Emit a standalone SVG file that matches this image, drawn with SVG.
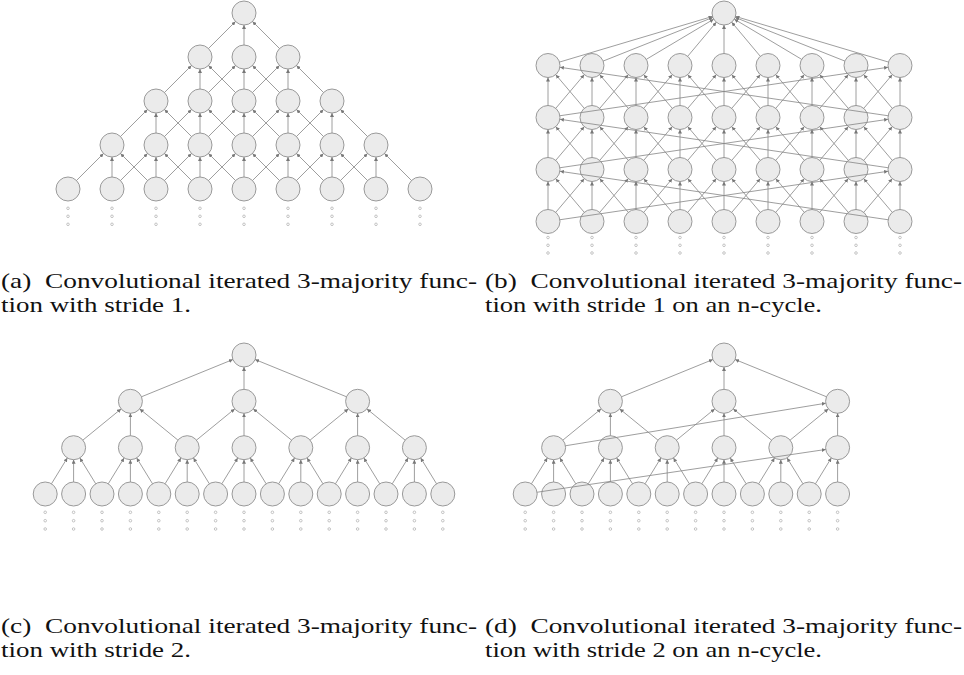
<svg xmlns="http://www.w3.org/2000/svg" width="964" height="675" viewBox="0 0 964 675">
<style>
.n{fill:#ebebeb;stroke:#9a9a9a;stroke-width:1}
.e{stroke:#858585;stroke-width:0.8;fill:none;marker-end:url(#ah)}
.d{fill:#fff;stroke:#a0a0a0;stroke-width:0.6}
.cap{font-family:"Liberation Serif",serif;font-size:22px;fill:#111;white-space:pre}
</style>
<defs>
<marker id="ah" viewBox="0 0 6 6" refX="6" refY="3" markerWidth="4" markerHeight="4" orient="auto" markerUnits="userSpaceOnUse"><path d="M0,0 L6,3 L0,6 z" fill="#777"/></marker>
</defs>
<rect width="964" height="675" fill="#fff"/>

<!-- Panel (a) nodes -->
<g id="panel-a-nodes">
<g id="a00"><circle class="n" cx="244" cy="13" r="12"/></g>
<g id="a10"><circle class="n" cx="200" cy="57" r="12"/></g>
<g id="a11"><circle class="n" cx="244" cy="57" r="12"/></g>
<g id="a12"><circle class="n" cx="288" cy="57" r="12"/></g>
<g id="a20"><circle class="n" cx="156" cy="101" r="12"/></g>
<g id="a21"><circle class="n" cx="200" cy="101" r="12"/></g>
<g id="a22"><circle class="n" cx="244" cy="101" r="12"/></g>
<g id="a23"><circle class="n" cx="288" cy="101" r="12"/></g>
<g id="a24"><circle class="n" cx="332" cy="101" r="12"/></g>
<g id="a30"><circle class="n" cx="112" cy="145" r="12"/></g>
<g id="a31"><circle class="n" cx="156" cy="145" r="12"/></g>
<g id="a32"><circle class="n" cx="200" cy="145" r="12"/></g>
<g id="a33"><circle class="n" cx="244" cy="145" r="12"/></g>
<g id="a34"><circle class="n" cx="288" cy="145" r="12"/></g>
<g id="a35"><circle class="n" cx="332" cy="145" r="12"/></g>
<g id="a36"><circle class="n" cx="376" cy="145" r="12"/></g>
<g id="a40"><circle class="n" cx="68" cy="189" r="12"/></g>
<g id="a41"><circle class="n" cx="112" cy="189" r="12"/></g>
<g id="a42"><circle class="n" cx="156" cy="189" r="12"/></g>
<g id="a43"><circle class="n" cx="200" cy="189" r="12"/></g>
<g id="a44"><circle class="n" cx="244" cy="189" r="12"/></g>
<g id="a45"><circle class="n" cx="288" cy="189" r="12"/></g>
<g id="a46"><circle class="n" cx="332" cy="189" r="12"/></g>
<g id="a47"><circle class="n" cx="376" cy="189" r="12"/></g>
<g id="a48"><circle class="n" cx="420" cy="189" r="12"/></g>
</g>
<g id="panel-a-dots">
<circle class="d" cx="68" cy="208.3" r="1.3"/><circle class="d" cx="68" cy="216.3" r="1.3"/><circle class="d" cx="68" cy="224.3" r="1.3"/>
<circle class="d" cx="112" cy="208.3" r="1.3"/><circle class="d" cx="112" cy="216.3" r="1.3"/><circle class="d" cx="112" cy="224.3" r="1.3"/>
<circle class="d" cx="156" cy="208.3" r="1.3"/><circle class="d" cx="156" cy="216.3" r="1.3"/><circle class="d" cx="156" cy="224.3" r="1.3"/>
<circle class="d" cx="200" cy="208.3" r="1.3"/><circle class="d" cx="200" cy="216.3" r="1.3"/><circle class="d" cx="200" cy="224.3" r="1.3"/>
<circle class="d" cx="244" cy="208.3" r="1.3"/><circle class="d" cx="244" cy="216.3" r="1.3"/><circle class="d" cx="244" cy="224.3" r="1.3"/>
<circle class="d" cx="288" cy="208.3" r="1.3"/><circle class="d" cx="288" cy="216.3" r="1.3"/><circle class="d" cx="288" cy="224.3" r="1.3"/>
<circle class="d" cx="332" cy="208.3" r="1.3"/><circle class="d" cx="332" cy="216.3" r="1.3"/><circle class="d" cx="332" cy="224.3" r="1.3"/>
<circle class="d" cx="376" cy="208.3" r="1.3"/><circle class="d" cx="376" cy="216.3" r="1.3"/><circle class="d" cx="376" cy="224.3" r="1.3"/>
<circle class="d" cx="420" cy="208.3" r="1.3"/><circle class="d" cx="420" cy="216.3" r="1.3"/><circle class="d" cx="420" cy="224.3" r="1.3"/>
</g>

<!-- Panel (b) nodes -->
<g id="panel-b-nodes">
<g id="b00"><circle class="n" cx="724" cy="13" r="12"/></g>
<g id="b10"><circle class="n" cx="548" cy="65.5" r="12"/></g>
<g id="b11"><circle class="n" cx="592" cy="65.5" r="12"/></g>
<g id="b12"><circle class="n" cx="636" cy="65.5" r="12"/></g>
<g id="b13"><circle class="n" cx="680" cy="65.5" r="12"/></g>
<g id="b14"><circle class="n" cx="724" cy="65.5" r="12"/></g>
<g id="b15"><circle class="n" cx="768" cy="65.5" r="12"/></g>
<g id="b16"><circle class="n" cx="812" cy="65.5" r="12"/></g>
<g id="b17"><circle class="n" cx="856" cy="65.5" r="12"/></g>
<g id="b18"><circle class="n" cx="900" cy="65.5" r="12"/></g>
<g id="b20"><circle class="n" cx="548" cy="117.5" r="12"/></g>
<g id="b21"><circle class="n" cx="592" cy="117.5" r="12"/></g>
<g id="b22"><circle class="n" cx="636" cy="117.5" r="12"/></g>
<g id="b23"><circle class="n" cx="680" cy="117.5" r="12"/></g>
<g id="b24"><circle class="n" cx="724" cy="117.5" r="12"/></g>
<g id="b25"><circle class="n" cx="768" cy="117.5" r="12"/></g>
<g id="b26"><circle class="n" cx="812" cy="117.5" r="12"/></g>
<g id="b27"><circle class="n" cx="856" cy="117.5" r="12"/></g>
<g id="b28"><circle class="n" cx="900" cy="117.5" r="12"/></g>
<g id="b30"><circle class="n" cx="548" cy="169.5" r="12"/></g>
<g id="b31"><circle class="n" cx="592" cy="169.5" r="12"/></g>
<g id="b32"><circle class="n" cx="636" cy="169.5" r="12"/></g>
<g id="b33"><circle class="n" cx="680" cy="169.5" r="12"/></g>
<g id="b34"><circle class="n" cx="724" cy="169.5" r="12"/></g>
<g id="b35"><circle class="n" cx="768" cy="169.5" r="12"/></g>
<g id="b36"><circle class="n" cx="812" cy="169.5" r="12"/></g>
<g id="b37"><circle class="n" cx="856" cy="169.5" r="12"/></g>
<g id="b38"><circle class="n" cx="900" cy="169.5" r="12"/></g>
<g id="b40"><circle class="n" cx="548" cy="221.5" r="12"/></g>
<g id="b41"><circle class="n" cx="592" cy="221.5" r="12"/></g>
<g id="b42"><circle class="n" cx="636" cy="221.5" r="12"/></g>
<g id="b43"><circle class="n" cx="680" cy="221.5" r="12"/></g>
<g id="b44"><circle class="n" cx="724" cy="221.5" r="12"/></g>
<g id="b45"><circle class="n" cx="768" cy="221.5" r="12"/></g>
<g id="b46"><circle class="n" cx="812" cy="221.5" r="12"/></g>
<g id="b47"><circle class="n" cx="856" cy="221.5" r="12"/></g>
<g id="b48"><circle class="n" cx="900" cy="221.5" r="12"/></g>
</g>
<g id="panel-b-dots">
<circle class="d" cx="548" cy="237.5" r="1.3"/><circle class="d" cx="548" cy="245.3" r="1.3"/><circle class="d" cx="548" cy="253" r="1.3"/>
<circle class="d" cx="592" cy="237.5" r="1.3"/><circle class="d" cx="592" cy="245.3" r="1.3"/><circle class="d" cx="592" cy="253" r="1.3"/>
<circle class="d" cx="636" cy="237.5" r="1.3"/><circle class="d" cx="636" cy="245.3" r="1.3"/><circle class="d" cx="636" cy="253" r="1.3"/>
<circle class="d" cx="680" cy="237.5" r="1.3"/><circle class="d" cx="680" cy="245.3" r="1.3"/><circle class="d" cx="680" cy="253" r="1.3"/>
<circle class="d" cx="724" cy="237.5" r="1.3"/><circle class="d" cx="724" cy="245.3" r="1.3"/><circle class="d" cx="724" cy="253" r="1.3"/>
<circle class="d" cx="768" cy="237.5" r="1.3"/><circle class="d" cx="768" cy="245.3" r="1.3"/><circle class="d" cx="768" cy="253" r="1.3"/>
<circle class="d" cx="812" cy="237.5" r="1.3"/><circle class="d" cx="812" cy="245.3" r="1.3"/><circle class="d" cx="812" cy="253" r="1.3"/>
<circle class="d" cx="856" cy="237.5" r="1.3"/><circle class="d" cx="856" cy="245.3" r="1.3"/><circle class="d" cx="856" cy="253" r="1.3"/>
<circle class="d" cx="900" cy="237.5" r="1.3"/><circle class="d" cx="900" cy="245.3" r="1.3"/><circle class="d" cx="900" cy="253" r="1.3"/>
</g>

<!-- Panel (c) nodes -->
<g id="panel-c-nodes">
<g id="c00"><circle class="n" cx="244" cy="355" r="12"/></g>
<g id="c10"><circle class="n" cx="130.4" cy="401.3" r="12"/></g>
<g id="c11"><circle class="n" cx="244" cy="401.3" r="12"/></g>
<g id="c12"><circle class="n" cx="357.6" cy="401.3" r="12"/></g>
<g id="c20"><circle class="n" cx="73.6" cy="447.7" r="12"/></g>
<g id="c21"><circle class="n" cx="130.4" cy="447.7" r="12"/></g>
<g id="c22"><circle class="n" cx="187.2" cy="447.7" r="12"/></g>
<g id="c23"><circle class="n" cx="244" cy="447.7" r="12"/></g>
<g id="c24"><circle class="n" cx="300.8" cy="447.7" r="12"/></g>
<g id="c25"><circle class="n" cx="357.6" cy="447.7" r="12"/></g>
<g id="c26"><circle class="n" cx="414.4" cy="447.7" r="12"/></g>
<g id="c30"><circle class="n" cx="45.2" cy="494" r="12"/></g>
<g id="c31"><circle class="n" cx="73.6" cy="494" r="12"/></g>
<g id="c32"><circle class="n" cx="102" cy="494" r="12"/></g>
<g id="c33"><circle class="n" cx="130.4" cy="494" r="12"/></g>
<g id="c34"><circle class="n" cx="158.8" cy="494" r="12"/></g>
<g id="c35"><circle class="n" cx="187.2" cy="494" r="12"/></g>
<g id="c36"><circle class="n" cx="215.6" cy="494" r="12"/></g>
<g id="c37"><circle class="n" cx="244" cy="494" r="12"/></g>
<g id="c38"><circle class="n" cx="272.4" cy="494" r="12"/></g>
<g id="c39"><circle class="n" cx="300.8" cy="494" r="12"/></g>
<g id="c310"><circle class="n" cx="329.2" cy="494" r="12"/></g>
<g id="c311"><circle class="n" cx="357.6" cy="494" r="12"/></g>
<g id="c312"><circle class="n" cx="386" cy="494" r="12"/></g>
<g id="c313"><circle class="n" cx="414.4" cy="494" r="12"/></g>
<g id="c314"><circle class="n" cx="442.8" cy="494" r="12"/></g>
</g>
<g id="panel-c-dots">
<circle class="d" cx="45.2" cy="512.3" r="1.3"/><circle class="d" cx="45.2" cy="520.7" r="1.3"/><circle class="d" cx="45.2" cy="529" r="1.3"/>
<circle class="d" cx="73.6" cy="512.3" r="1.3"/><circle class="d" cx="73.6" cy="520.7" r="1.3"/><circle class="d" cx="73.6" cy="529" r="1.3"/>
<circle class="d" cx="102" cy="512.3" r="1.3"/><circle class="d" cx="102" cy="520.7" r="1.3"/><circle class="d" cx="102" cy="529" r="1.3"/>
<circle class="d" cx="130.4" cy="512.3" r="1.3"/><circle class="d" cx="130.4" cy="520.7" r="1.3"/><circle class="d" cx="130.4" cy="529" r="1.3"/>
<circle class="d" cx="158.8" cy="512.3" r="1.3"/><circle class="d" cx="158.8" cy="520.7" r="1.3"/><circle class="d" cx="158.8" cy="529" r="1.3"/>
<circle class="d" cx="187.2" cy="512.3" r="1.3"/><circle class="d" cx="187.2" cy="520.7" r="1.3"/><circle class="d" cx="187.2" cy="529" r="1.3"/>
<circle class="d" cx="215.6" cy="512.3" r="1.3"/><circle class="d" cx="215.6" cy="520.7" r="1.3"/><circle class="d" cx="215.6" cy="529" r="1.3"/>
<circle class="d" cx="244" cy="512.3" r="1.3"/><circle class="d" cx="244" cy="520.7" r="1.3"/><circle class="d" cx="244" cy="529" r="1.3"/>
<circle class="d" cx="272.4" cy="512.3" r="1.3"/><circle class="d" cx="272.4" cy="520.7" r="1.3"/><circle class="d" cx="272.4" cy="529" r="1.3"/>
<circle class="d" cx="300.8" cy="512.3" r="1.3"/><circle class="d" cx="300.8" cy="520.7" r="1.3"/><circle class="d" cx="300.8" cy="529" r="1.3"/>
<circle class="d" cx="329.2" cy="512.3" r="1.3"/><circle class="d" cx="329.2" cy="520.7" r="1.3"/><circle class="d" cx="329.2" cy="529" r="1.3"/>
<circle class="d" cx="357.6" cy="512.3" r="1.3"/><circle class="d" cx="357.6" cy="520.7" r="1.3"/><circle class="d" cx="357.6" cy="529" r="1.3"/>
<circle class="d" cx="386" cy="512.3" r="1.3"/><circle class="d" cx="386" cy="520.7" r="1.3"/><circle class="d" cx="386" cy="529" r="1.3"/>
<circle class="d" cx="414.4" cy="512.3" r="1.3"/><circle class="d" cx="414.4" cy="520.7" r="1.3"/><circle class="d" cx="414.4" cy="529" r="1.3"/>
<circle class="d" cx="442.8" cy="512.3" r="1.3"/><circle class="d" cx="442.8" cy="520.7" r="1.3"/><circle class="d" cx="442.8" cy="529" r="1.3"/>
</g>

<!-- Panel (d) nodes -->
<g id="panel-d-nodes">
<g id="d00"><circle class="n" cx="724" cy="355" r="12"/></g>
<g id="d10"><circle class="n" cx="610.4" cy="401.3" r="12"/></g>
<g id="d11"><circle class="n" cx="724" cy="401.3" r="12"/></g>
<g id="d12"><circle class="n" cx="837.6" cy="401.3" r="12"/></g>
<g id="d20"><circle class="n" cx="553.6" cy="447.7" r="12"/></g>
<g id="d21"><circle class="n" cx="610.4" cy="447.7" r="12"/></g>
<g id="d22"><circle class="n" cx="667.2" cy="447.7" r="12"/></g>
<g id="d23"><circle class="n" cx="724" cy="447.7" r="12"/></g>
<g id="d24"><circle class="n" cx="780.8" cy="447.7" r="12"/></g>
<g id="d25"><circle class="n" cx="837.6" cy="447.7" r="12"/></g>
<g id="d30"><circle class="n" cx="525.2" cy="494" r="12"/></g>
<g id="d31"><circle class="n" cx="553.6" cy="494" r="12"/></g>
<g id="d32"><circle class="n" cx="582" cy="494" r="12"/></g>
<g id="d33"><circle class="n" cx="610.4" cy="494" r="12"/></g>
<g id="d34"><circle class="n" cx="638.8" cy="494" r="12"/></g>
<g id="d35"><circle class="n" cx="667.2" cy="494" r="12"/></g>
<g id="d36"><circle class="n" cx="695.6" cy="494" r="12"/></g>
<g id="d37"><circle class="n" cx="724" cy="494" r="12"/></g>
<g id="d38"><circle class="n" cx="752.4" cy="494" r="12"/></g>
<g id="d39"><circle class="n" cx="780.8" cy="494" r="12"/></g>
<g id="d310"><circle class="n" cx="809.2" cy="494" r="12"/></g>
<g id="d311"><circle class="n" cx="837.6" cy="494" r="12"/></g>
</g>
<g id="panel-d-dots">
<circle class="d" cx="525.2" cy="512.3" r="1.3"/><circle class="d" cx="525.2" cy="520.7" r="1.3"/><circle class="d" cx="525.2" cy="529" r="1.3"/>
<circle class="d" cx="553.6" cy="512.3" r="1.3"/><circle class="d" cx="553.6" cy="520.7" r="1.3"/><circle class="d" cx="553.6" cy="529" r="1.3"/>
<circle class="d" cx="582" cy="512.3" r="1.3"/><circle class="d" cx="582" cy="520.7" r="1.3"/><circle class="d" cx="582" cy="529" r="1.3"/>
<circle class="d" cx="610.4" cy="512.3" r="1.3"/><circle class="d" cx="610.4" cy="520.7" r="1.3"/><circle class="d" cx="610.4" cy="529" r="1.3"/>
<circle class="d" cx="638.8" cy="512.3" r="1.3"/><circle class="d" cx="638.8" cy="520.7" r="1.3"/><circle class="d" cx="638.8" cy="529" r="1.3"/>
<circle class="d" cx="667.2" cy="512.3" r="1.3"/><circle class="d" cx="667.2" cy="520.7" r="1.3"/><circle class="d" cx="667.2" cy="529" r="1.3"/>
<circle class="d" cx="695.6" cy="512.3" r="1.3"/><circle class="d" cx="695.6" cy="520.7" r="1.3"/><circle class="d" cx="695.6" cy="529" r="1.3"/>
<circle class="d" cx="724" cy="512.3" r="1.3"/><circle class="d" cx="724" cy="520.7" r="1.3"/><circle class="d" cx="724" cy="529" r="1.3"/>
<circle class="d" cx="752.4" cy="512.3" r="1.3"/><circle class="d" cx="752.4" cy="520.7" r="1.3"/><circle class="d" cx="752.4" cy="529" r="1.3"/>
<circle class="d" cx="780.8" cy="512.3" r="1.3"/><circle class="d" cx="780.8" cy="520.7" r="1.3"/><circle class="d" cx="780.8" cy="529" r="1.3"/>
<circle class="d" cx="809.2" cy="512.3" r="1.3"/><circle class="d" cx="809.2" cy="520.7" r="1.3"/><circle class="d" cx="809.2" cy="529" r="1.3"/>
<circle class="d" cx="837.6" cy="512.3" r="1.3"/><circle class="d" cx="837.6" cy="520.7" r="1.3"/><circle class="d" cx="837.6" cy="529" r="1.3"/>
</g>

<!-- Connectors -->
<g id="connectors">
<g id="edges-a">
<line class="e" x1="208.49" y1="48.51" x2="235.51" y2="21.49"/>
<line class="e" x1="244" y1="45" x2="244" y2="25"/>
<line class="e" x1="279.51" y1="48.51" x2="252.49" y2="21.49"/>

<line class="e" x1="164.49" y1="92.51" x2="191.51" y2="65.49"/>
<line class="e" x1="200" y1="89" x2="200" y2="69"/>
<line class="e" x1="208.49" y1="92.51" x2="235.51" y2="65.49"/>
<line class="e" x1="235.51" y1="92.51" x2="208.49" y2="65.49"/>
<line class="e" x1="244" y1="89" x2="244" y2="69"/>
<line class="e" x1="252.49" y1="92.51" x2="279.51" y2="65.49"/>
<line class="e" x1="279.51" y1="92.51" x2="252.49" y2="65.49"/>
<line class="e" x1="288" y1="89" x2="288" y2="69"/>
<line class="e" x1="323.51" y1="92.51" x2="296.49" y2="65.49"/>

<line class="e" x1="120.49" y1="136.51" x2="147.51" y2="109.49"/>
<line class="e" x1="156" y1="133" x2="156" y2="113"/>
<line class="e" x1="164.49" y1="136.51" x2="191.51" y2="109.49"/>
<line class="e" x1="191.51" y1="136.51" x2="164.49" y2="109.49"/>
<line class="e" x1="200" y1="133" x2="200" y2="113"/>
<line class="e" x1="208.49" y1="136.51" x2="235.51" y2="109.49"/>
<line class="e" x1="235.51" y1="136.51" x2="208.49" y2="109.49"/>
<line class="e" x1="244" y1="133" x2="244" y2="113"/>
<line class="e" x1="252.49" y1="136.51" x2="279.51" y2="109.49"/>
<line class="e" x1="279.51" y1="136.51" x2="252.49" y2="109.49"/>
<line class="e" x1="288" y1="133" x2="288" y2="113"/>
<line class="e" x1="296.49" y1="136.51" x2="323.51" y2="109.49"/>
<line class="e" x1="323.51" y1="136.51" x2="296.49" y2="109.49"/>
<line class="e" x1="332" y1="133" x2="332" y2="113"/>
<line class="e" x1="367.51" y1="136.51" x2="340.49" y2="109.49"/>

<line class="e" x1="76.49" y1="180.51" x2="103.51" y2="153.49"/>
<line class="e" x1="112" y1="177" x2="112" y2="157"/>
<line class="e" x1="120.49" y1="180.51" x2="147.51" y2="153.49"/>
<line class="e" x1="147.51" y1="180.51" x2="120.49" y2="153.49"/>
<line class="e" x1="156" y1="177" x2="156" y2="157"/>
<line class="e" x1="164.49" y1="180.51" x2="191.51" y2="153.49"/>
<line class="e" x1="191.51" y1="180.51" x2="164.49" y2="153.49"/>
<line class="e" x1="200" y1="177" x2="200" y2="157"/>
<line class="e" x1="208.49" y1="180.51" x2="235.51" y2="153.49"/>
<line class="e" x1="235.51" y1="180.51" x2="208.49" y2="153.49"/>
<line class="e" x1="244" y1="177" x2="244" y2="157"/>
<line class="e" x1="252.49" y1="180.51" x2="279.51" y2="153.49"/>
<line class="e" x1="279.51" y1="180.51" x2="252.49" y2="153.49"/>
<line class="e" x1="288" y1="177" x2="288" y2="157"/>
<line class="e" x1="296.49" y1="180.51" x2="323.51" y2="153.49"/>
<line class="e" x1="323.51" y1="180.51" x2="296.49" y2="153.49"/>
<line class="e" x1="332" y1="177" x2="332" y2="157"/>
<line class="e" x1="340.49" y1="180.51" x2="367.51" y2="153.49"/>
<line class="e" x1="367.51" y1="180.51" x2="340.49" y2="153.49"/>
<line class="e" x1="376" y1="177" x2="376" y2="157"/>
<line class="e" x1="411.51" y1="180.51" x2="384.49" y2="153.49"/>
</g>

<g id="edges-b">
<line class="e" x1="559.5" y1="62.07" x2="712.5" y2="16.43"/>
<line class="e" x1="603.15" y1="61.07" x2="712.85" y2="17.43"/>
<line class="e" x1="646.31" y1="59.35" x2="713.69" y2="19.15"/>
<line class="e" x1="687.71" y1="56.3" x2="716.29" y2="22.2"/>
<line class="e" x1="724" y1="53.5" x2="724" y2="25"/>
<line class="e" x1="760.29" y1="56.3" x2="731.71" y2="22.2"/>
<line class="e" x1="801.69" y1="59.35" x2="734.31" y2="19.15"/>
<line class="e" x1="844.85" y1="61.07" x2="735.15" y2="17.43"/>
<line class="e" x1="888.5" y1="62.07" x2="735.5" y2="16.43"/>

<line class="e" x1="555.75" y1="108.34" x2="584.25" y2="74.66"/>
<line class="e" x1="599.75" y1="108.34" x2="628.25" y2="74.66"/>
<line class="e" x1="643.75" y1="108.34" x2="672.25" y2="74.66"/>
<line class="e" x1="687.75" y1="108.34" x2="716.25" y2="74.66"/>
<line class="e" x1="731.75" y1="108.34" x2="760.25" y2="74.66"/>
<line class="e" x1="775.75" y1="108.34" x2="804.25" y2="74.66"/>
<line class="e" x1="819.75" y1="108.34" x2="848.25" y2="74.66"/>
<line class="e" x1="863.75" y1="108.34" x2="892.25" y2="74.66"/>
<line class="e" x1="584.25" y1="108.34" x2="555.75" y2="74.66"/>
<line class="e" x1="628.25" y1="108.34" x2="599.75" y2="74.66"/>
<line class="e" x1="672.25" y1="108.34" x2="643.75" y2="74.66"/>
<line class="e" x1="716.25" y1="108.34" x2="687.75" y2="74.66"/>
<line class="e" x1="760.25" y1="108.34" x2="731.75" y2="74.66"/>
<line class="e" x1="804.25" y1="108.34" x2="775.75" y2="74.66"/>
<line class="e" x1="848.25" y1="108.34" x2="819.75" y2="74.66"/>
<line class="e" x1="892.25" y1="108.34" x2="863.75" y2="74.66"/>
<line class="e" x1="548" y1="105.5" x2="548" y2="77.5"/>
<line class="e" x1="592" y1="105.5" x2="592" y2="77.5"/>
<line class="e" x1="636" y1="105.5" x2="636" y2="77.5"/>
<line class="e" x1="680" y1="105.5" x2="680" y2="77.5"/>
<line class="e" x1="724" y1="105.5" x2="724" y2="77.5"/>
<line class="e" x1="768" y1="105.5" x2="768" y2="77.5"/>
<line class="e" x1="812" y1="105.5" x2="812" y2="77.5"/>
<line class="e" x1="856" y1="105.5" x2="856" y2="77.5"/>
<line class="e" x1="900" y1="105.5" x2="900" y2="77.5"/>
<line class="e" x1="559.87" y1="115.75" x2="888.13" y2="67.25"/>
<line class="e" x1="888.13" y1="115.75" x2="559.87" y2="67.25"/>

<line class="e" x1="555.75" y1="160.34" x2="584.25" y2="126.66"/>
<line class="e" x1="599.75" y1="160.34" x2="628.25" y2="126.66"/>
<line class="e" x1="643.75" y1="160.34" x2="672.25" y2="126.66"/>
<line class="e" x1="687.75" y1="160.34" x2="716.25" y2="126.66"/>
<line class="e" x1="731.75" y1="160.34" x2="760.25" y2="126.66"/>
<line class="e" x1="775.75" y1="160.34" x2="804.25" y2="126.66"/>
<line class="e" x1="819.75" y1="160.34" x2="848.25" y2="126.66"/>
<line class="e" x1="863.75" y1="160.34" x2="892.25" y2="126.66"/>
<line class="e" x1="584.25" y1="160.34" x2="555.75" y2="126.66"/>
<line class="e" x1="628.25" y1="160.34" x2="599.75" y2="126.66"/>
<line class="e" x1="672.25" y1="160.34" x2="643.75" y2="126.66"/>
<line class="e" x1="716.25" y1="160.34" x2="687.75" y2="126.66"/>
<line class="e" x1="760.25" y1="160.34" x2="731.75" y2="126.66"/>
<line class="e" x1="804.25" y1="160.34" x2="775.75" y2="126.66"/>
<line class="e" x1="848.25" y1="160.34" x2="819.75" y2="126.66"/>
<line class="e" x1="892.25" y1="160.34" x2="863.75" y2="126.66"/>
<line class="e" x1="548" y1="157.5" x2="548" y2="129.5"/>
<line class="e" x1="592" y1="157.5" x2="592" y2="129.5"/>
<line class="e" x1="636" y1="157.5" x2="636" y2="129.5"/>
<line class="e" x1="680" y1="157.5" x2="680" y2="129.5"/>
<line class="e" x1="724" y1="157.5" x2="724" y2="129.5"/>
<line class="e" x1="768" y1="157.5" x2="768" y2="129.5"/>
<line class="e" x1="812" y1="157.5" x2="812" y2="129.5"/>
<line class="e" x1="856" y1="157.5" x2="856" y2="129.5"/>
<line class="e" x1="900" y1="157.5" x2="900" y2="129.5"/>
<line class="e" x1="559.87" y1="167.75" x2="888.13" y2="119.25"/>
<line class="e" x1="888.13" y1="167.75" x2="559.87" y2="119.25"/>

<line class="e" x1="555.75" y1="212.34" x2="584.25" y2="178.66"/>
<line class="e" x1="599.75" y1="212.34" x2="628.25" y2="178.66"/>
<line class="e" x1="643.75" y1="212.34" x2="672.25" y2="178.66"/>
<line class="e" x1="687.75" y1="212.34" x2="716.25" y2="178.66"/>
<line class="e" x1="731.75" y1="212.34" x2="760.25" y2="178.66"/>
<line class="e" x1="775.75" y1="212.34" x2="804.25" y2="178.66"/>
<line class="e" x1="819.75" y1="212.34" x2="848.25" y2="178.66"/>
<line class="e" x1="863.75" y1="212.34" x2="892.25" y2="178.66"/>
<line class="e" x1="584.25" y1="212.34" x2="555.75" y2="178.66"/>
<line class="e" x1="628.25" y1="212.34" x2="599.75" y2="178.66"/>
<line class="e" x1="672.25" y1="212.34" x2="643.75" y2="178.66"/>
<line class="e" x1="716.25" y1="212.34" x2="687.75" y2="178.66"/>
<line class="e" x1="760.25" y1="212.34" x2="731.75" y2="178.66"/>
<line class="e" x1="804.25" y1="212.34" x2="775.75" y2="178.66"/>
<line class="e" x1="848.25" y1="212.34" x2="819.75" y2="178.66"/>
<line class="e" x1="892.25" y1="212.34" x2="863.75" y2="178.66"/>
<line class="e" x1="548" y1="209.5" x2="548" y2="181.5"/>
<line class="e" x1="592" y1="209.5" x2="592" y2="181.5"/>
<line class="e" x1="636" y1="209.5" x2="636" y2="181.5"/>
<line class="e" x1="680" y1="209.5" x2="680" y2="181.5"/>
<line class="e" x1="724" y1="209.5" x2="724" y2="181.5"/>
<line class="e" x1="768" y1="209.5" x2="768" y2="181.5"/>
<line class="e" x1="812" y1="209.5" x2="812" y2="181.5"/>
<line class="e" x1="856" y1="209.5" x2="856" y2="181.5"/>
<line class="e" x1="900" y1="209.5" x2="900" y2="181.5"/>
<line class="e" x1="559.87" y1="219.75" x2="888.13" y2="171.25"/>
<line class="e" x1="888.13" y1="219.75" x2="559.87" y2="171.25"/>
</g>

<g id="edges-c">
<line class="e" x1="141.51" y1="396.77" x2="232.89" y2="359.53"/>
<line class="e" x1="244" y1="389.3" x2="244" y2="367"/>
<line class="e" x1="346.49" y1="396.77" x2="255.11" y2="359.53"/>

<line class="e" x1="82.89" y1="440.11" x2="121.11" y2="408.89"/>
<line class="e" x1="130.4" y1="435.7" x2="130.4" y2="413.3"/>
<line class="e" x1="177.91" y1="440.11" x2="139.69" y2="408.89"/>
<line class="e" x1="196.49" y1="440.11" x2="234.71" y2="408.89"/>
<line class="e" x1="244" y1="435.7" x2="244" y2="413.3"/>
<line class="e" x1="291.51" y1="440.11" x2="253.29" y2="408.89"/>
<line class="e" x1="310.09" y1="440.11" x2="348.31" y2="408.89"/>
<line class="e" x1="357.6" y1="435.7" x2="357.6" y2="413.3"/>
<line class="e" x1="405.11" y1="440.11" x2="366.89" y2="408.89"/>

<line class="e" x1="51.47" y1="483.77" x2="67.33" y2="457.93"/>
<line class="e" x1="73.6" y1="482" x2="73.6" y2="459.7"/>
<line class="e" x1="95.73" y1="483.77" x2="79.87" y2="457.93"/>
<line class="e" x1="108.27" y1="483.77" x2="124.13" y2="457.93"/>
<line class="e" x1="130.4" y1="482" x2="130.4" y2="459.7"/>
<line class="e" x1="152.53" y1="483.77" x2="136.67" y2="457.93"/>
<line class="e" x1="165.07" y1="483.77" x2="180.93" y2="457.93"/>
<line class="e" x1="187.2" y1="482" x2="187.2" y2="459.7"/>
<line class="e" x1="209.33" y1="483.77" x2="193.47" y2="457.93"/>
<line class="e" x1="221.87" y1="483.77" x2="237.73" y2="457.93"/>
<line class="e" x1="244" y1="482" x2="244" y2="459.7"/>
<line class="e" x1="266.13" y1="483.77" x2="250.27" y2="457.93"/>
<line class="e" x1="278.67" y1="483.77" x2="294.53" y2="457.93"/>
<line class="e" x1="300.8" y1="482" x2="300.8" y2="459.7"/>
<line class="e" x1="322.93" y1="483.77" x2="307.07" y2="457.93"/>
<line class="e" x1="335.47" y1="483.77" x2="351.33" y2="457.93"/>
<line class="e" x1="357.6" y1="482" x2="357.6" y2="459.7"/>
<line class="e" x1="379.73" y1="483.77" x2="363.87" y2="457.93"/>
<line class="e" x1="392.27" y1="483.77" x2="408.13" y2="457.93"/>
<line class="e" x1="414.4" y1="482" x2="414.4" y2="459.7"/>
<line class="e" x1="436.53" y1="483.77" x2="420.67" y2="457.93"/>
</g>

<g id="edges-d">
<line class="e" x1="621.51" y1="396.77" x2="712.89" y2="359.53"/>
<line class="e" x1="724" y1="389.3" x2="724" y2="367"/>
<line class="e" x1="826.49" y1="396.77" x2="735.11" y2="359.53"/>

<line class="e" x1="562.89" y1="440.11" x2="601.11" y2="408.89"/>
<line class="e" x1="565.44" y1="445.77" x2="825.76" y2="403.23"/>
<line class="e" x1="610.4" y1="435.7" x2="610.4" y2="413.3"/>
<line class="e" x1="657.91" y1="440.11" x2="619.69" y2="408.89"/>
<line class="e" x1="676.49" y1="440.11" x2="714.71" y2="408.89"/>
<line class="e" x1="724" y1="435.7" x2="724" y2="413.3"/>
<line class="e" x1="771.51" y1="440.11" x2="733.29" y2="408.89"/>
<line class="e" x1="790.09" y1="440.11" x2="828.31" y2="408.89"/>
<line class="e" x1="837.6" y1="435.7" x2="837.6" y2="413.3"/>

<line class="e" x1="531.47" y1="483.77" x2="547.33" y2="457.93"/>
<line class="e" x1="537.07" y1="492.24" x2="825.73" y2="449.46"/>
<line class="e" x1="553.6" y1="482" x2="553.6" y2="459.7"/>
<line class="e" x1="575.73" y1="483.77" x2="559.87" y2="457.93"/>
<line class="e" x1="588.27" y1="483.77" x2="604.13" y2="457.93"/>
<line class="e" x1="610.4" y1="482" x2="610.4" y2="459.7"/>
<line class="e" x1="632.53" y1="483.77" x2="616.67" y2="457.93"/>
<line class="e" x1="645.07" y1="483.77" x2="660.93" y2="457.93"/>
<line class="e" x1="667.2" y1="482" x2="667.2" y2="459.7"/>
<line class="e" x1="689.33" y1="483.77" x2="673.47" y2="457.93"/>
<line class="e" x1="701.87" y1="483.77" x2="717.73" y2="457.93"/>
<line class="e" x1="724" y1="482" x2="724" y2="459.7"/>
<line class="e" x1="746.13" y1="483.77" x2="730.27" y2="457.93"/>
<line class="e" x1="758.67" y1="483.77" x2="774.53" y2="457.93"/>
<line class="e" x1="780.8" y1="482" x2="780.8" y2="459.7"/>
<line class="e" x1="802.93" y1="483.77" x2="787.07" y2="457.93"/>
<line class="e" x1="815.47" y1="483.77" x2="831.33" y2="457.93"/>
<line class="e" x1="837.6" y1="482" x2="837.6" y2="459.7"/>
</g>
</g>

<!-- Captions -->
<g id="captions">
<text class="cap" x="1" y="288" textLength="476" lengthAdjust="spacingAndGlyphs">(a)  Convolutional iterated 3-majority func-</text>
<text class="cap" x="1" y="312" textLength="190" lengthAdjust="spacingAndGlyphs">tion with stride 1.</text>
<text class="cap" x="485" y="288" textLength="477" lengthAdjust="spacingAndGlyphs">(b)  Convolutional iterated 3-majority func-</text>
<text class="cap" x="485" y="312" textLength="337" lengthAdjust="spacingAndGlyphs">tion with stride 1 on an n-cycle.</text>
<text class="cap" x="1" y="633" textLength="476" lengthAdjust="spacingAndGlyphs">(c)  Convolutional iterated 3-majority func-</text>
<text class="cap" x="1" y="657" textLength="190" lengthAdjust="spacingAndGlyphs">tion with stride 2.</text>
<text class="cap" x="485" y="633" textLength="477" lengthAdjust="spacingAndGlyphs">(d)  Convolutional iterated 3-majority func-</text>
<text class="cap" x="485" y="657" textLength="337" lengthAdjust="spacingAndGlyphs">tion with stride 2 on an n-cycle.</text>
</g>
</svg>
